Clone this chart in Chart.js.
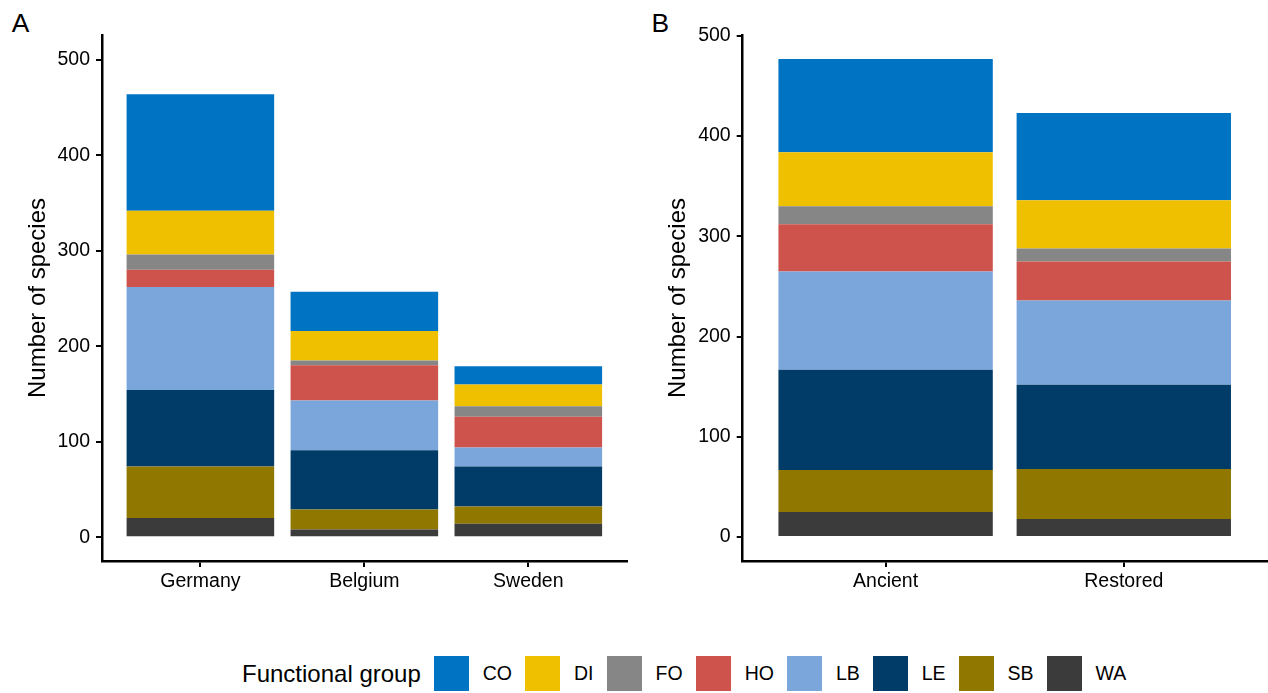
<!DOCTYPE html>
<html>
<head>
<meta charset="utf-8">
<script src="https://cdn.jsdelivr.net/npm/chart.js@4.4.1/dist/chart.umd.min.js"></script>
<style>
    body { margin: 0; background: #fff; width: 1268px; height: 693px; overflow: hidden; position: relative;
           font-family: 'Liberation Sans', Arial, sans-serif; color: #000; }
    canvas { position: absolute; top: 0; }
    #chartA { left: 0; }
    #chartB { left: 640px; }
    .tag { position: absolute; top: 9.5px; font-size: 26.4px; line-height: 1; }
    #legend { position: absolute; left: 242px; top: 656px; height: 35px; display: flex; align-items: center; white-space: nowrap; }
    #legend .title { font-size: 24px; margin-right: 13px; }
    #legend .key { width: 35px; height: 35px; margin-right: 14px; }
    #legend .lab { font-size: 19.5px; margin-right: 13px; }
</style>
</head>
<body>
<div class="tag" style="left:11.7px">A</div>
<div class="tag" style="left:651.5px">B</div>
<canvas id="chartA" width="640" height="612"></canvas>
<canvas id="chartB" width="628" height="612"></canvas>
<div id="legend"></div>
<script>
// functional groups, in legend order (top of the stack first)
var groups = ['CO', 'DI', 'FO', 'HO', 'LB', 'LE', 'SB', 'WA'];
var groupColors = ['#0073C2', '#EFC000', '#868686', '#CD534C', '#7AA6DC', '#003C67', '#8F7700', '#3B3B3B'];

// panel A: countries
var countries = ['Germany', 'Belgium', 'Sweden'];
var germany = [122, 46, 16, 18, 108, 80, 54, 20];
var belgium = [41, 31, 5, 37, 52, 62, 21, 8];
var sweden = [19, 23, 11, 32, 20, 42, 18, 14];

// panel B: grassland type
var stages = ['Ancient', 'Restored'];
var ancient = [93, 54, 18, 47, 98, 100, 42, 25];
var restored = [87, 48, 13, 39, 84, 84, 50, 18];

var yTicks = [0, 100, 200, 300, 400, 500];

Chart.defaults.font.family = "'Liberation Sans', Arial, sans-serif";
Chart.defaults.color = '#000';

function buildDatasets(seriesByCat) {
    var sets = [];
    // WA first so it sits at the bottom of the stack
    for (var g = groups.length - 1; g >= 0; g--) {
        sets.push({
            label: groups[g],
            backgroundColor: groupColors[g],
            borderWidth: 0,
            categoryPercentage: 1,
            barPercentage: 0.9,
            data: seriesByCat.map(function (arr, i) {
                return { x: i, y: arr[g] };
            })
        });
    }
    return sets;
}

function panelChart(id, cats, seriesByCat, yMin, yMax, yAxisWidth, rightPad) {
    return new Chart(id, {
        type: 'bar',
        data: { datasets: buildDatasets(seriesByCat) },
        options: {
            responsive: false,
            animation: false,
            devicePixelRatio: 1,
            layout: { padding: { top: 35, right: rightPad, left: 0, bottom: 0 } },
            plugins: { legend: { display: false }, tooltip: { enabled: false } },
            scales: {
                x: {
                    type: 'linear',
                    stacked: true,
                    offset: false,
                    min: -0.6,
                    max: cats.length - 0.4,
                    afterBuildTicks: function (scale) {
                        scale.ticks = cats.map(function (c, i) { return { value: i }; });
                    },
                    afterFit: function (scale) { scale.height = 51; },
                    grid: { drawOnChartArea: false, offset: false, tickLength: 6, color: '#000', lineWidth: 2 },
                    border: { display: true, color: '#000', width: 2.5 },
                    ticks: {
                        autoSkip: false,
                        maxRotation: 0,
                        padding: 3,
                        font: { size: 19.5 },
                        color: '#000',
                        callback: function (v) { return cats[v]; }
                    }
                },
                y: {
                    type: 'linear',
                    stacked: true,
                    min: yMin,
                    max: yMax,
                    afterBuildTicks: function (scale) {
                        scale.ticks = yTicks.map(function (v) { return { value: v }; });
                    },
                    afterFit: function (scale) { scale.width = yAxisWidth; },
                    grid: { drawOnChartArea: false, tickLength: 6, color: '#000', lineWidth: 2 },
                    border: { display: true, color: '#000', width: 2.5 },
                    ticks: { padding: 6, font: { size: 19.5 }, color: '#000' },
                    title: {
                        display: true,
                        text: 'Number of species',
                        font: { size: 24 },
                        color: '#000',
                        padding: { top: 24, bottom: 0 }
                    }
                }
            }
        }
    });
}

panelChart('chartA', countries, [germany, belgium, sweden], -25, 526, 102, 13.3);
panelChart('chartB', stages, [ancient, restored], -23.85, 500.85, 102.7, 1.3);

// legend
var legend = document.getElementById('legend');
var t = document.createElement('span');
t.className = 'title';
t.textContent = 'Functional group';
legend.appendChild(t);
groups.forEach(function (g, i) {
    var key = document.createElement('span');
    key.className = 'key';
    key.style.background = groupColors[i];
    legend.appendChild(key);
    var lab = document.createElement('span');
    lab.className = 'lab';
    lab.textContent = g;
    legend.appendChild(lab);
});
</script>
</body>
</html>
